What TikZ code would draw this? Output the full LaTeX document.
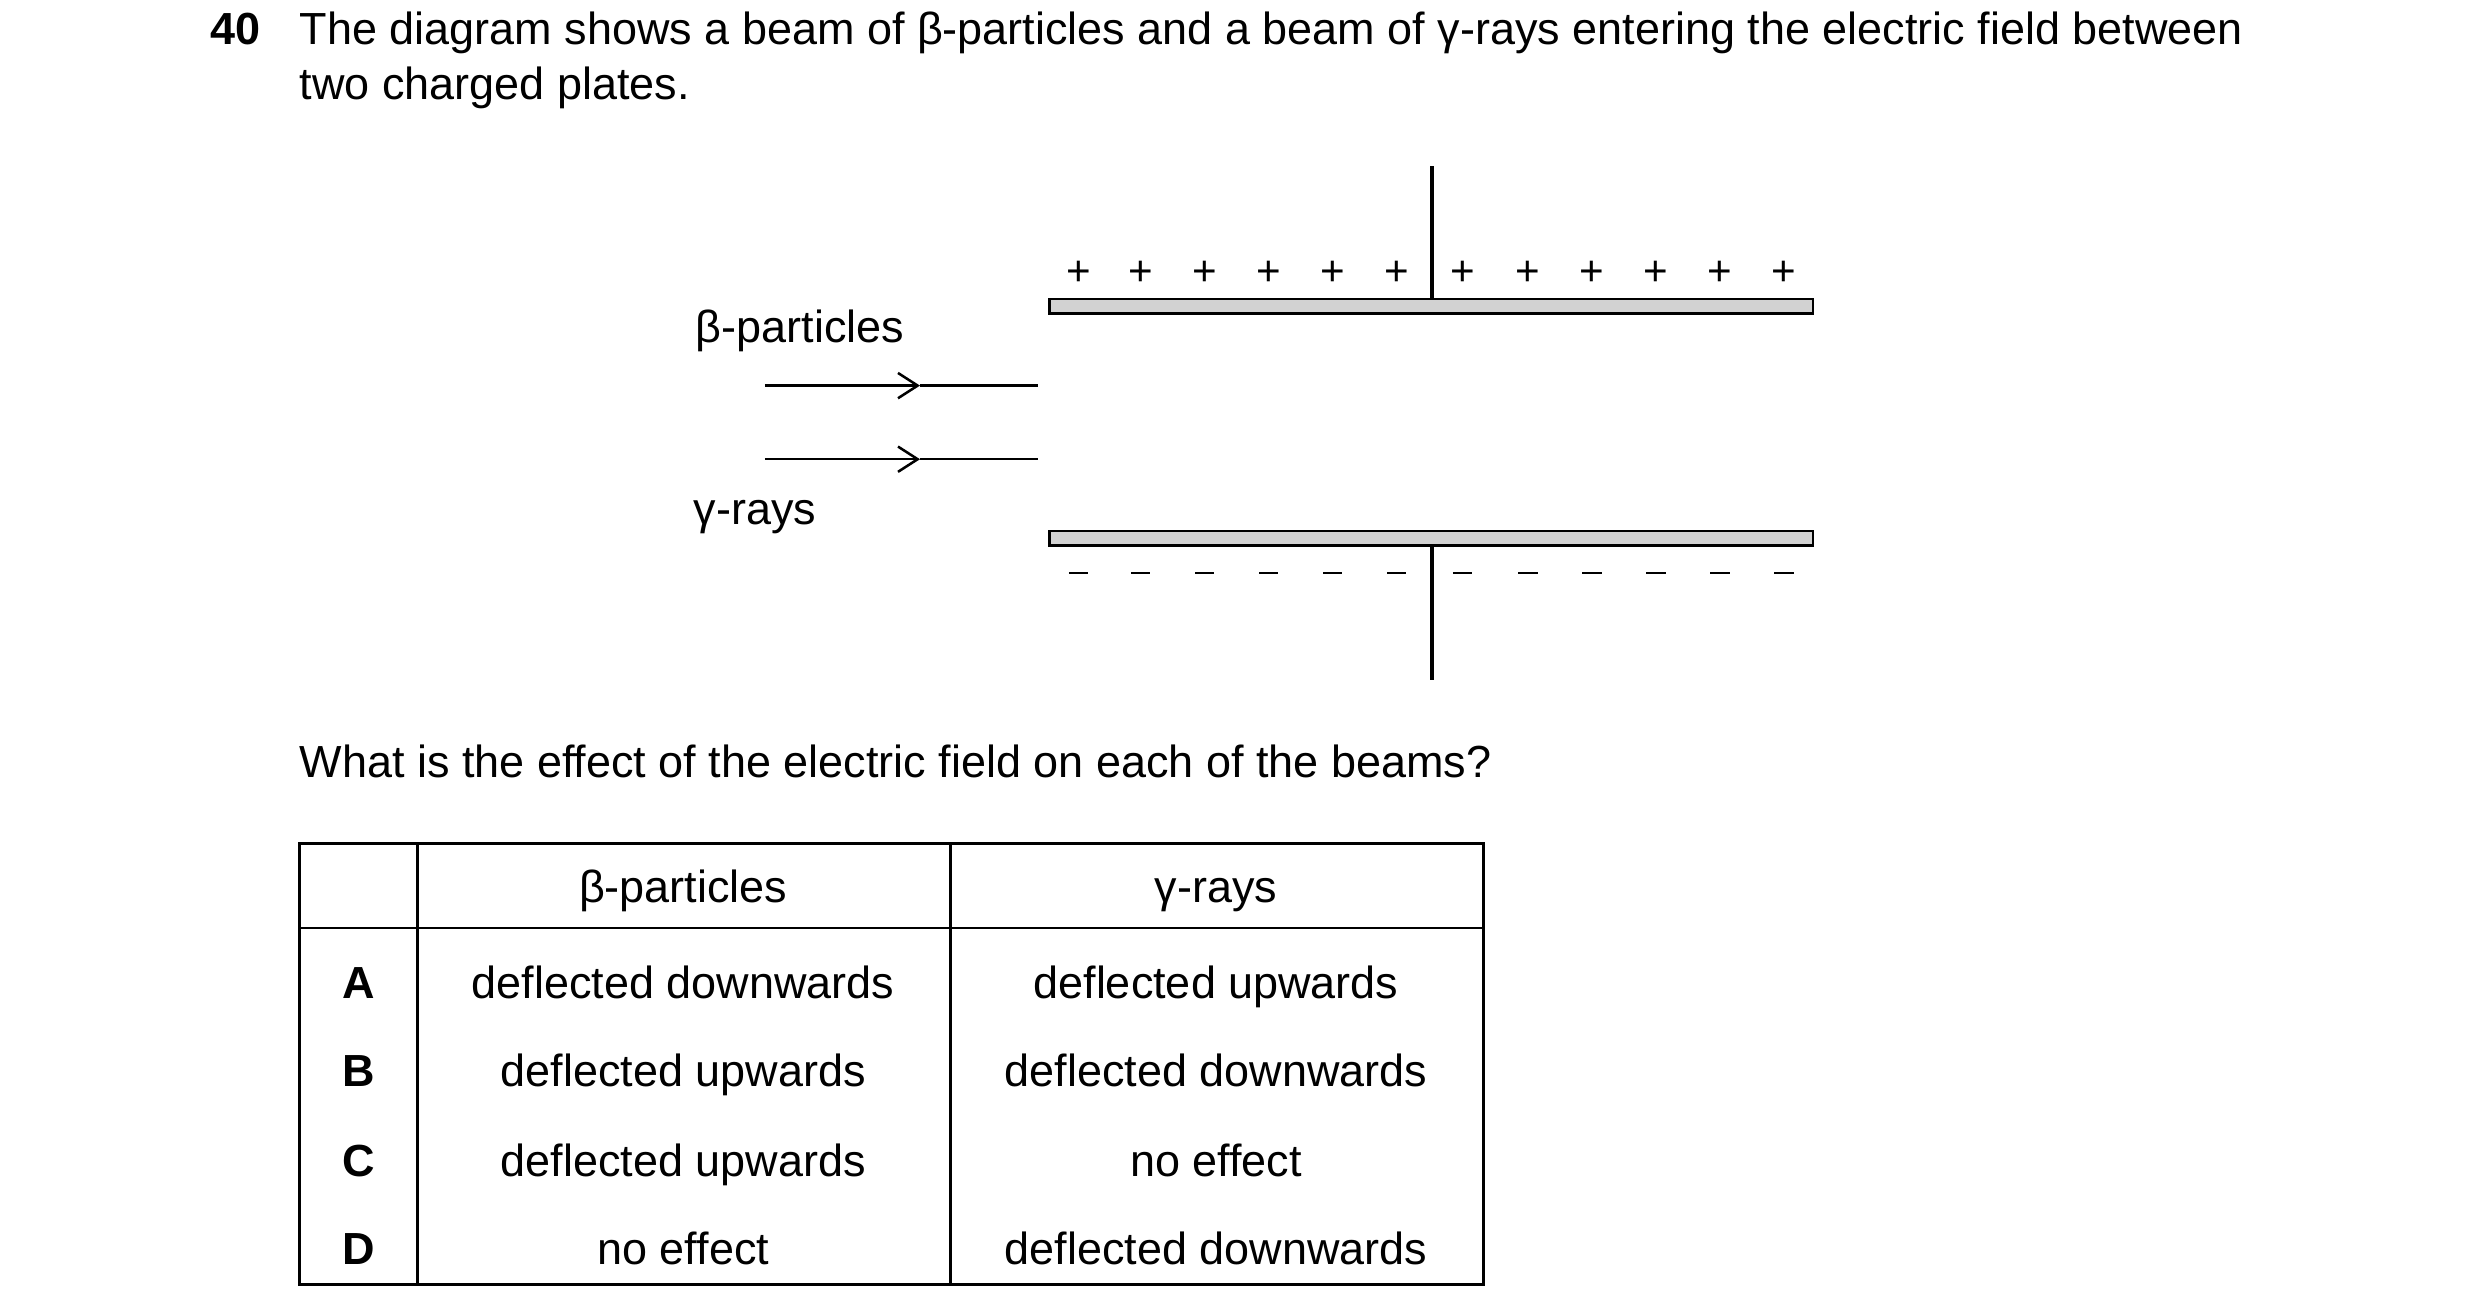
\documentclass[tikz,border=0pt]{standalone}
\usepackage{fontspec}
\setmainfont{Liberation Sans}
\usetikzlibrary{arrows.meta}
\begin{document}
\begin{tikzpicture}[x=0.02cm,y=-0.02cm,
 txt/.style={font=\fontsize{16}{19}\selectfont,inner sep=0pt},
 plate/.style={draw,fill=gray!35,line width=0.9pt},
 sgn/.style={font=\fontsize{15}{17}\selectfont,inner sep=0pt},
 beam/.style={line width=0.9pt,-{Straight Barb[length=7pt,width=9pt]}}]
\useasboundingbox (0,0) rectangle (1550,808);
\node[txt,anchor=base west,font=\fontsize{16}{19}\bfseries] (num) at (131,28) {40};
\node[txt,anchor=base west] (l1) at (187,28) {The diagram shows a beam of β-particles and a beam of γ-rays entering the electric field between};
\node[txt,anchor=base west] (l2) at (187,62) {two charged plates.};
% plates
\draw[plate] (656,187) rectangle (1133,196);
\draw[plate] (656,332) rectangle (1133,341);
\draw[line width=1.2pt] (895,104) -- (895,187);
\draw[line width=1.2pt] (895,341) -- (895,425);
\foreach \x in {674,713,753,793,833,873,914,955,995,1035,1075,1115}{
 \node[sgn] at (\x,171) {+};
 \draw[line width=0.9pt] (\x-6,358) -- (\x+6,358);
}
\node[txt,anchor=base] (bl) at (500,214) {β-particles};
\node[txt,anchor=base] (gl) at (472,328) {γ-rays};
\coordinate (b1) at (478,241); \coordinate (bm) at (575,241); \coordinate (b2) at (649,241);
\coordinate (g1) at (478,287); \coordinate (gm) at (575,287); \coordinate (g2) at (649,287);
\draw[beam] (b1) -- (bm); \draw[line width=0.9pt] (bm) -- (b2);
\draw[beam] (g1) -- (gm); \draw[line width=0.9pt] (gm) -- (g2);
\node[txt,anchor=base west] (q) at (187,486) {What is the effect of the electric field on each of the beams?};
% table
\draw[line width=1pt] (187,527) rectangle (927,803);
\draw[line width=1pt] (187,580) -- (927,580);
\draw[line width=1pt] (261,527) -- (261,803);
\draw[line width=1pt] (594,527) -- (594,803);
\node[txt,anchor=base] (h1) at (427,564) {β-particles};
\node[txt,anchor=base] (h2) at (760,564) {γ-rays};
\foreach \y/\l/\a/\b in {624/A/deflected downwards/deflected upwards,679/B/deflected upwards/deflected downwards,735/C/deflected upwards/no effect,790/D/no effect/deflected downwards}{
 \node[txt,anchor=base,font=\fontsize{16}{19}\bfseries] at (224,\y) {\l};
 \node[txt,anchor=base] at (427,\y) {\a};
 \node[txt,anchor=base] at (760,\y) {\b};
}
\end{tikzpicture}
\end{document}
